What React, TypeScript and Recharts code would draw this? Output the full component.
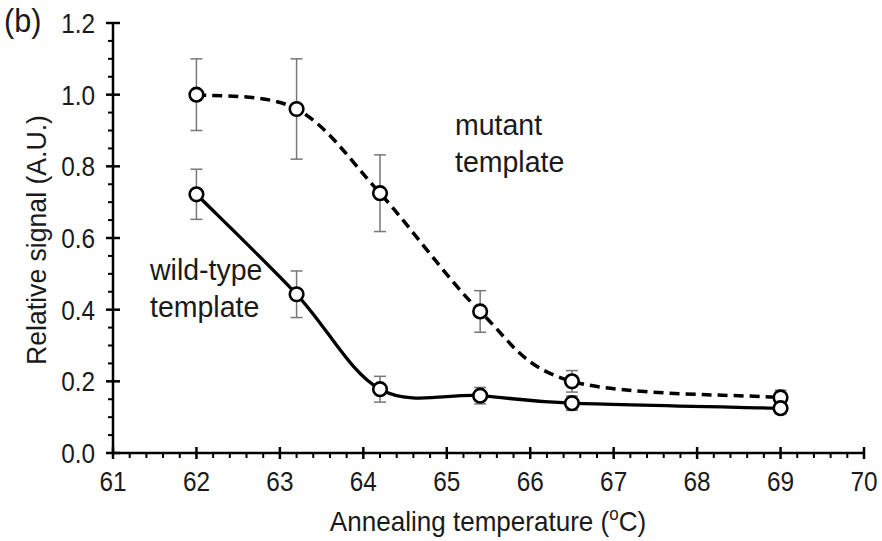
import React from "react";
import { LineChart, Line, XAxis, YAxis, ErrorBar } from "recharts";

// annealing temperatures (°C)
const mutantTemps = [62, 63.2, 64.2, 65.4, 66.5, 69];
const mutantSignal = [1.0, 0.96, 0.725, 0.395, 0.2, 0.155];
const mutantErr = [0.1, 0.14, 0.107, 0.058, 0.03, 0.02];

const wildTemps = [62, 63.2, 64.2, 65.4, 66.5, 69];
const wildSignal = [0.722, 0.443, 0.178, 0.16, 0.139, 0.125];
const wildErr = [0.07, 0.065, 0.036, 0.023, 0.02, 0.015];

const xMajor = [61, 62, 63, 64, 65, 66, 67, 68, 69, 70];
const yMajor = [0, 0.2, 0.4, 0.6, 0.8, 1.0, 1.2];

const xMinorPerMajor = 5;
const yMinorPerMajor = 4;

const withMinors = (major: number[], parts: number) => {
  const out: number[] = [];
  major.forEach((v, i) => {
    out.push(v);
    const next = major[i + 1];
    if (next === undefined) return;
    for (let k = 1; k < parts; k++) out.push(+(v + ((next - v) * k) / parts).toFixed(4));
  });
  return out;
};
const xTicks = withMinors(xMajor, xMinorPerMajor);
const yTicks = withMinors(yMajor, yMinorPerMajor);

const mutantData = mutantTemps.map((t, i) => ({ t, v: mutantSignal[i], e: mutantErr[i] }));
const wildData = wildTemps.map((t, i) => ({ t, v: wildSignal[i], e: wildErr[i] }));

const FONT = "'Liberation Sans', Arial, sans-serif";
const SQUEEZE = 0.87;

// Excel-style smoothed line (uniform Catmull-Rom through the points)
function excelSmooth(context: any) {
  let pts: [number, number][] = [];
  return {
    areaStart() {},
    areaEnd() {},
    lineStart() {
      pts = [];
    },
    lineEnd() {
      const n = pts.length;
      if (!n) return;
      context.moveTo(pts[0][0], pts[0][1]);
      for (let i = 0; i < n - 1; i++) {
        const p0 = pts[i - 1] ?? pts[i];
        const p1 = pts[i];
        const p2 = pts[i + 1];
        const p3 = pts[i + 2] ?? p2;
        context.bezierCurveTo(
          p1[0] + (p2[0] - p0[0]) / 6,
          p1[1] + (p2[1] - p0[1]) / 6,
          p2[0] - (p3[0] - p1[0]) / 6,
          p2[1] - (p3[1] - p1[1]) / 6,
          p2[0],
          p2[1]
        );
      }
    },
    point(x: number, y: number) {
      pts.push([+x, +y]);
    },
  };
}

const isMajor = (v: number, list: number[]) => list.some((m) => Math.abs(m - v) < 1e-6);

function XTick({ x, y, payload }: any) {
  const v = payload.value;
  if (!isMajor(v, xMajor)) {
    return <line x1={x} x2={x} y1={y} y2={y + 5} stroke="#000" strokeWidth={2} />;
  }
  return (
    <g>
      <line x1={x} x2={x} y1={y - 6} y2={y + 6} stroke="#000" strokeWidth={2.5} />
      <text
        transform={`translate(${x},${y + 38}) scale(${SQUEEZE},1)`}
        textAnchor="middle"
        fontFamily={FONT}
        fontSize={28}
        fill="#1a1a1a"
      >
        {v}
      </text>
    </g>
  );
}

function YTick({ x, y, payload }: any) {
  const v = payload.value;
  if (!isMajor(v, yMajor)) {
    return <line x1={x - 5} x2={x} y1={y} y2={y} stroke="#000" strokeWidth={2} />;
  }
  return (
    <g>
      <line x1={x - 7} x2={x + 7} y1={y} y2={y} stroke="#000" strokeWidth={2.5} />
      <text
        transform={`translate(${x - 18},${y + 10}) scale(${SQUEEZE},1)`}
        textAnchor="end"
        fontFamily={FONT}
        fontSize={28}
        fill="#1a1a1a"
      >
        {v.toFixed(1)}
      </text>
    </g>
  );
}

function OpenDot({ cx, cy }: any) {
  if (cx == null || cy == null) return null;
  return <circle cx={cx} cy={cy} r={6.8} fill="#fff" stroke="#000" strokeWidth={2.6} />;
}

const textStyle: React.CSSProperties = {
  position: "absolute",
  fontFamily: FONT,
  color: "#1a1a1a",
  whiteSpace: "nowrap",
  lineHeight: 1.22,
};

export default function App() {
  return (
    <div style={{ position: "absolute", left: 0, top: 0, width: 882, height: 541, background: "#fff" }}>
      <LineChart width={882} height={541} margin={{ top: 23, right: 18, bottom: 0, left: 0 }}>
        <XAxis
          dataKey="t"
          type="number"
          domain={[61, 70]}
          ticks={xTicks}
          interval={0}
          height={88}
          tickSize={0}
          tickMargin={0}
          tickLine={false}
          tick={<XTick />}
          axisLine={{ stroke: "#000", strokeWidth: 2.5 }}
          allowDuplicatedCategory={false}
        />
        <YAxis
          type="number"
          domain={[0, 1.2]}
          ticks={yTicks}
          interval={0}
          width={113}
          tickSize={0}
          tickMargin={0}
          tickLine={false}
          tick={<YTick />}
          axisLine={{ stroke: "#000", strokeWidth: 2.5 }}
        />
        <Line
          data={mutantData}
          dataKey="v"
          type={excelSmooth as any}
          stroke="#000"
          strokeWidth={3.5}
          strokeDasharray="10 6"
          dot={(p: any) => <OpenDot key={`m${p.index}`} {...p} />}
          activeDot={false}
          isAnimationActive={false}
        >
          <ErrorBar dataKey="e" direction="y" width={6} stroke="#777" strokeWidth={1.5} />
        </Line>
        <Line
          data={wildData}
          dataKey="v"
          type={excelSmooth as any}
          stroke="#000"
          strokeWidth={3.3}
          dot={(p: any) => <OpenDot key={`w${p.index}`} {...p} />}
          activeDot={false}
          isAnimationActive={false}
        >
          <ErrorBar dataKey="e" direction="y" width={6} stroke="#777" strokeWidth={1.5} />
        </Line>
      </LineChart>

      <div style={{ ...textStyle, left: 4, top: 0, fontSize: 34, transform: "scaleX(0.9)", transformOrigin: "left" }}>(b)</div>
      <div style={{ ...textStyle, left: 455, top: 107, fontSize: 30, transform: "scaleX(0.95)", transformOrigin: "left" }}>
        mutant
        <br />
        template
      </div>
      <div style={{ ...textStyle, left: 150, top: 252, fontSize: 30, transform: "scaleX(0.95)", transformOrigin: "left" }}>
        wild-type
        <br />
        template
      </div>
      <div
        style={{
          ...textStyle,
          left: 488,
          top: 521,
          fontSize: 28,
          transform: "translate(-50%,-50%) scaleX(0.93)",
        }}
      >
        Annealing temperature (<sup style={{ fontSize: "0.65em" }}>o</sup>C)
      </div>
      <div
        style={{
          ...textStyle,
          left: 37,
          top: 240,
          fontSize: 28,
          transform: "translate(-50%,-50%) rotate(-90deg) scaleX(0.95)",
        }}
      >
        Relative signal (A.U.)
      </div>
    </div>
  );
}
